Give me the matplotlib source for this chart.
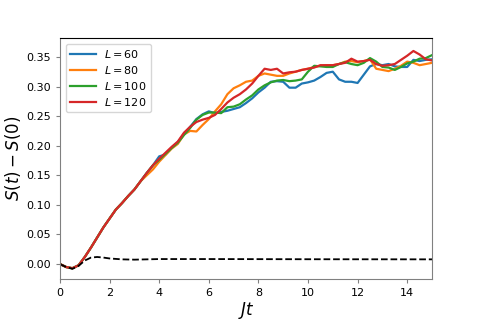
import matplotlib
matplotlib.use("Agg")
import matplotlib.pyplot as plt
import numpy as np

# time grid for the L curves (step 0.25)
t = np.arange(0, 15.01, 0.25)

early = [0.0, -0.005, -0.007, -0.002, 0.012, 0.028, 0.045, 0.062, 0.077, 0.092,
         0.103, 0.115, 0.126, 0.140, 0.154, 0.167]

s_L60 = early + [
    0.182, 0.185, 0.196, 0.206, 0.220, 0.232, 0.245, 0.253, 0.258, 0.255,
    0.257, 0.259, 0.262, 0.265, 0.272, 0.280, 0.290, 0.298, 0.308, 0.309,
    0.308, 0.298, 0.298, 0.305, 0.307, 0.310, 0.316, 0.323, 0.325, 0.312,
    0.308, 0.308, 0.306, 0.320, 0.334, 0.338, 0.336, 0.338, 0.334, 0.333,
    0.333, 0.345, 0.343, 0.345, 0.346]
s_L80 = early[:14] + [0.150, 0.160] + [
    0.173, 0.184, 0.195, 0.203, 0.219, 0.225, 0.224, 0.235, 0.245, 0.258,
    0.270, 0.287, 0.297, 0.302, 0.308, 0.310, 0.318, 0.322, 0.320, 0.318,
    0.318, 0.322, 0.325, 0.328, 0.330, 0.333, 0.335, 0.336, 0.336, 0.338,
    0.342, 0.343, 0.341, 0.343, 0.346, 0.330, 0.328, 0.326, 0.330, 0.335,
    0.342, 0.340, 0.336, 0.338, 0.340]
s_L100 = early + [
    0.176, 0.186, 0.196, 0.205, 0.218, 0.230, 0.244, 0.252, 0.256, 0.256,
    0.255, 0.265, 0.266, 0.270, 0.278, 0.285, 0.295, 0.302, 0.307, 0.310,
    0.311, 0.309, 0.310, 0.312, 0.325, 0.335, 0.334, 0.333, 0.333, 0.338,
    0.341, 0.338, 0.336, 0.340, 0.348, 0.342, 0.333, 0.332, 0.328, 0.333,
    0.339, 0.342, 0.347, 0.348, 0.353]
s_L120 = early + [
    0.178, 0.188, 0.198, 0.207, 0.222, 0.232, 0.240, 0.244, 0.247, 0.252,
    0.262, 0.273, 0.281, 0.287, 0.295, 0.305, 0.318, 0.330, 0.328, 0.330,
    0.322, 0.324, 0.325, 0.328, 0.330, 0.332, 0.336, 0.336, 0.336, 0.338,
    0.340, 0.347, 0.342, 0.343, 0.345, 0.338, 0.335, 0.336, 0.338, 0.345,
    0.352, 0.360, 0.354, 0.346, 0.344]

# dashed reference curve
t_ref = [0, 0.25, 0.5, 0.75, 1.0, 1.25, 1.5, 1.75, 2.0, 2.5, 3.0, 3.5, 4.0, 6.0, 10.0, 15.0]
s_ref = [0.0, -0.005, -0.008, -0.003, 0.006, 0.011, 0.012, 0.011, 0.0095, 0.008,
         0.0075, 0.008, 0.0085, 0.0085, 0.0082, 0.008]

series = [("$L=60$", s_L60, "C0"), ("$L=80$", s_L80, "C1"),
          ("$L=100$", s_L100, "C2"), ("$L=120$", s_L120, "C3")]

fig = plt.figure(figsize=(4.8, 3.2), dpi=100)
ax = fig.add_axes([0.125, 0.127, 0.775, 0.754])

for label, vals, color in series:
    ax.plot(t, vals, color=color, lw=1.6, label=label)
ax.plot(t_ref, s_ref, "k--", lw=1.3)

ax.set_xlim(0, 15)
ax.set_ylim(-0.0258, 0.3818)
ax.set_xticks(np.arange(0, 15, 2))
ax.set_yticks(np.arange(0, 0.36, 0.05))
ax.tick_params(labelsize=8, color="gray", length=3)
for side in ["left", "bottom", "right"]:
    ax.spines[side].set_color("gray")
ax.spines["top"].set_color("black")

ax.set_xlabel("$Jt$", fontsize=12, labelpad=1)
ax.set_ylabel("$S(t)-S(0)$", fontsize=12, labelpad=2)
ax.legend(loc="upper left", fontsize=8, handlelength=2.3, labelspacing=0.35)

fig.savefig("out.png", dpi=100)
